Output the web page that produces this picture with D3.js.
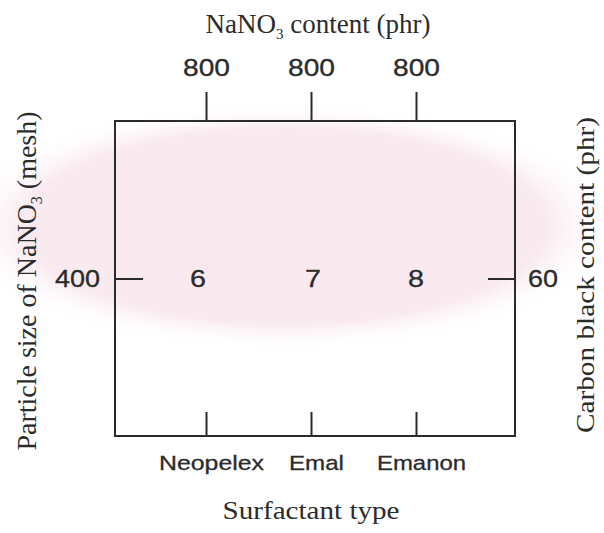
<!DOCTYPE html>
<html><head><meta charset="utf-8">
<script src="https://cdn.jsdelivr.net/npm/d3@7"></script>
<style>html,body{margin:0;padding:0;background:#fff;}svg{display:block;}</style>
</head><body><div id="chart"></div>
<script>
// Data
const surfactants = ["Neopelex", "Emal", "Emanon"];
const cellValues = ["6", "7", "8"];
const nanoContent = ["800", "800", "800"];
const particleSize = ["400"];
const carbonBlack = ["60"];

const W = 604, H = 533;
const box = {left: 115, right: 515, top: 121, bottom: 436};

const svg = d3.select("#chart").append("svg").attr("width", W).attr("height", H);

// faint watermark-like pink background
const defs = svg.append("defs");
const rg = defs.append("radialGradient").attr("id", "pinkglow");
rg.append("stop").attr("offset", "0%").attr("stop-color", "#f9e8ee");
rg.append("stop").attr("offset", "78%").attr("stop-color", "#f9eaf0");
rg.append("stop").attr("offset", "100%").attr("stop-color", "#ffffff").attr("stop-opacity", 0);
svg.append("ellipse").attr("cx", 285).attr("cy", 226).attr("rx", 335).attr("ry", 125).attr("fill", "url(#pinkglow)");

const x = d3.scalePoint().domain(surfactants).range([box.left - 4, box.right - 4]).padding(0.905);
const y = d3.scalePoint().domain(particleSize).range([box.top, box.bottom]).padding(0.5);
const yR = d3.scalePoint().domain(carbonBlack).range([box.top, box.bottom]).padding(0.5);
const xTop = d3.scalePoint().domain(nanoContent.map((d, i) => i)).range([box.left - 4, box.right - 4]).padding(0.905);

const ink = "#2b2b2b";
const sans = "'Liberation Sans', Arial, sans-serif";
const serif = "'Liberation Serif', 'Times New Roman', serif";

// frame
svg.append("rect").attr("x", box.left).attr("y", box.top)
  .attr("width", box.right - box.left).attr("height", box.bottom - box.top)
  .attr("fill", "none").attr("stroke", ink).attr("stroke-width", 2);

// axes
const gTop = svg.append("g").attr("transform", `translate(0,${box.top})`)
  .call(d3.axisTop(xTop).tickSize(29).tickPadding(16).tickFormat(i => nanoContent[i]));
const gBot = svg.append("g").attr("transform", `translate(0,${box.bottom})`)
  .call(d3.axisBottom(x).tickSize(-24).tickPadding(19));
const gLeft = svg.append("g").attr("transform", `translate(${box.left},0)`)
  .call(d3.axisLeft(y).tickSize(-28).tickPadding(15));
const gRight = svg.append("g").attr("transform", `translate(${box.right},0)`)
  .call(d3.axisRight(yR).tickSize(-27).tickPadding(13));

[gTop, gBot, gLeft, gRight].forEach(g => {
  g.select(".domain").remove();
  g.selectAll(".tick line").attr("stroke", ink).attr("stroke-width", 2);
  g.selectAll(".tick text").attr("fill", ink).attr("font-family", sans)
    .attr("stroke", ink).attr("stroke-width", 0.3);
});
gTop.selectAll(".tick text").attr("font-size", 23).attr("textLength", 47).attr("lengthAdjust", "spacingAndGlyphs");
gBot.selectAll(".tick text").attr("font-size", 21)
  .attr("dx", 5)
  .attr("textLength", d => ({Neopelex: 105, Emal: 55, Emanon: 89})[d]).attr("lengthAdjust", "spacingAndGlyphs");
gLeft.selectAll(".tick text").attr("font-size", 23).attr("dy", "0.36em").attr("textLength", 45).attr("lengthAdjust", "spacingAndGlyphs");
gRight.selectAll(".tick text").attr("font-size", 23).attr("dy", "0.36em").attr("textLength", 30).attr("lengthAdjust", "spacingAndGlyphs");

// cell values
svg.append("g").selectAll("text").data(cellValues).join("text")
  .attr("x", (d, i) => x(surfactants[i]) - (i === 0 ? 8 : 0) + (i === 1 ? 2 : 0))
  .attr("y", y(particleSize[0]))
  .attr("dy", "0.36em")
  .attr("text-anchor", "middle")
  .attr("font-family", sans).attr("font-size", 24).attr("fill", ink)
  .attr("stroke", ink).attr("stroke-width", 0.3)
  .attr("textLength", 16).attr("lengthAdjust", "spacingAndGlyphs")
  .text(d => d);

// axis titles
const title = svg.append("text").attr("x", 318).attr("y", 33).attr("text-anchor", "middle")
  .attr("font-family", serif).attr("font-size", 27).attr("fill", ink);
title.append("tspan").text("NaNO");
title.append("tspan").attr("font-size", 15).attr("dy", 6).text("3");
title.append("tspan").attr("dy", -6).text(" content (phr)");

svg.append("text").attr("x", 311).attr("y", 519).attr("text-anchor", "middle")
  .attr("font-family", serif).attr("font-size", 25).attr("fill", ink)
  .attr("textLength", 177).attr("lengthAdjust", "spacingAndGlyphs")
  .text("Surfactant type");

const lt = svg.append("text").attr("transform", "translate(36,281) rotate(-90)").attr("text-anchor", "middle")
  .attr("font-family", serif).attr("font-size", 28).attr("fill", ink);
lt.append("tspan").text("Particle size of NaNO");
lt.append("tspan").attr("font-size", 16).attr("dy", 6).text("3");
lt.append("tspan").attr("dy", -6).text(" (mesh)");

svg.append("text").attr("transform", "translate(594,275) rotate(-90)").attr("text-anchor", "middle")
  .attr("font-family", serif).attr("font-size", 25).attr("fill", ink)
  .attr("textLength", 316).attr("lengthAdjust", "spacingAndGlyphs")
  .text("Carbon black content (phr)");
</script></body></html>
